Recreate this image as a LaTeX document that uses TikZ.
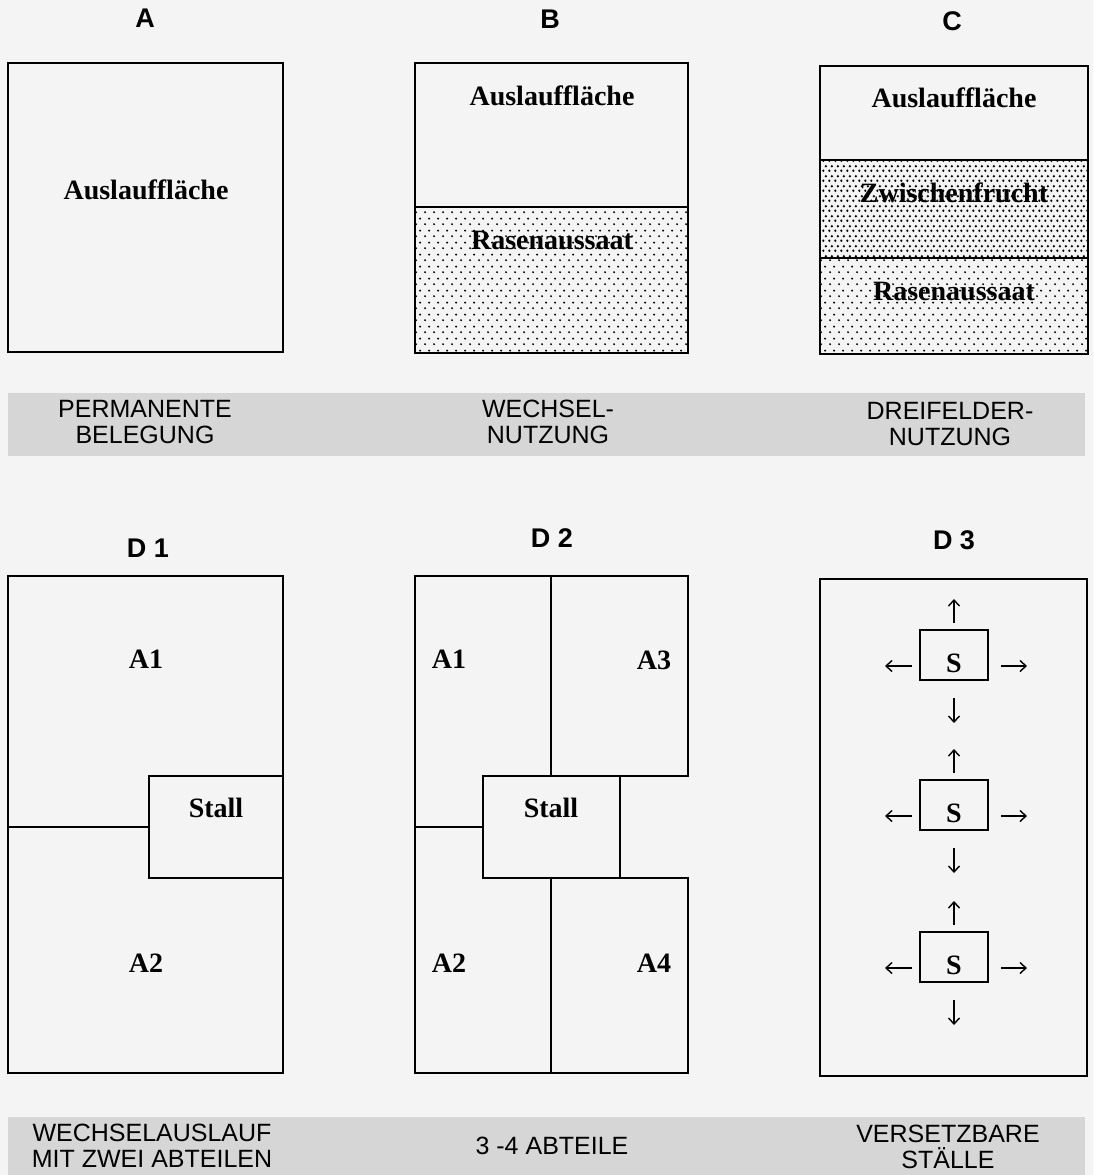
\documentclass[tikz,border=0pt]{standalone}
\usepackage{fontspec}
\setmainfont{Liberation Serif}
\setsansfont{Liberation Sans}
\usetikzlibrary{arrows.meta,patterns}
\definecolor{bg}{RGB}{244,244,244}
\definecolor{bandgray}{RGB}{214,214,214}
\pgfdeclarepatternformonly{sparsedots}{\pgfqpoint{0pt}{0pt}}{\pgfqpoint{9pt}{12pt}}{\pgfqpoint{9pt}{12pt}}{%
  \pgfpathcircle{\pgfqpoint{2.25pt}{3pt}}{1.15pt}%
  \pgfpathcircle{\pgfqpoint{6.75pt}{9pt}}{1.15pt}%
  \pgfusepath{fill}}
\pgfdeclarepatternformonly{densedots}{\pgfqpoint{0pt}{0pt}}{\pgfqpoint{6pt}{9.5pt}}{\pgfqpoint{6pt}{9.5pt}}{%
  \pgfpathcircle{\pgfqpoint{1.5pt}{2.375pt}}{1.4pt}%
  \pgfpathcircle{\pgfqpoint{4.5pt}{7.125pt}}{1.4pt}%
  \pgfusepath{fill}}
\begin{document}
\begin{tikzpicture}[x=1pt,y=-1pt,
  box/.style={draw=black,line width=1.6pt,anchor=north west,inner sep=0pt,outer sep=0pt,fill=bg},
  sparse/.style={box,pattern=sparsedots,pattern color=black},
  dense/.style={box,pattern=densedots,pattern color=black},
  lbl/.style={font=\fontsize{28}{28}\selectfont\bfseries},
  ttl/.style={font=\sffamily\bfseries\fontsize{27}{27}\selectfont},
  bandtxt/.style={font=\sffamily\fontsize{25}{26}\selectfont,align=center},
  wall/.style={draw=black,line width=1.6pt},
  arr/.style={line width=1.4pt,-{Straight Barb[length=6pt,width=11pt]}}
]
\useasboundingbox[fill=bg] (0,0) rectangle (1093,1175);

% ---------- titles ----------
\node[ttl] (tA) at (145,18) {A};
\node[ttl] (tB) at (550,19) {B};
\node[ttl] (tC) at (952,21) {C};
\node[ttl] (tD1) at (148,548) {D 1};
\node[ttl] (tD2) at (552,538) {D 2};
\node[ttl] (tD3) at (954,540) {D 3};

% ---------- A ----------
\node[box,minimum width=275pt,minimum height=289pt] (boxA) at (8,63) {};
\node[lbl] (lA) at (146,190) {Auslauffläche};

% ---------- B ----------
\node[box,minimum width=273pt,minimum height=144pt] (bTop) at (415,63) {};
\node[box,minimum width=273pt,minimum height=146pt] (bBot) at (415,207) {};
\draw[sparse] (415,207) rectangle (688,353);
\node[lbl] (lB1) at (552,96) {Auslauffläche};
\node[lbl] (lB2) at (552,241) {Rasenaussaat};

% ---------- C ----------
\node[box,minimum width=268pt,minimum height=94pt] (cTop) at (820,66) {};
\node[box,minimum width=268pt,minimum height=98pt] (cMid) at (820,160) {};
\draw[dense] (820,160) rectangle (1088,258);
\node[box,minimum width=268pt,minimum height=96pt] (cBot) at (820,258) {};
\draw[sparse] (820,258) rectangle (1088,354);
\node[lbl] (lC1) at (954,98) {Auslauffläche};
\node[lbl] (lC2) at (954,193) {Zwischenfrucht};
\node[lbl] (lC3) at (954,292) {Rasenaussaat};

% ---------- band 1 ----------
\fill[bandgray] (8,393) rectangle (1085,456);
\node[bandtxt] (b1a) at (145,422) {PERMANENTE\\BELEGUNG};
\node[bandtxt] (b1b) at (548,422) {WECHSEL-\\NUTZUNG};
\node[bandtxt] (b1c) at (950,424) {DREIFELDER-\\NUTZUNG};

% ---------- D1 ----------
\node[box,minimum width=275pt,minimum height=497pt] (d1) at (8,576) {};
\node[box,minimum width=134pt,minimum height=102pt] (stall1) at (149,776) {};
\draw[wall] (stall1.west) -- (stall1.west -| d1.west);
\node[lbl] (d1a1) at (146,659) {A1};
\node[lbl] (d1st) at (216,808) {Stall};
\node[lbl] (d1a2) at (146,963) {A2};

% ---------- D2 ----------
\coordinate (d2tl) at (415,576);
\coordinate (d2bl) at (415,1073);
\node[box,minimum width=137pt,minimum height=200pt] (a3) at (551,576) {};
\node[box,minimum width=137pt,minimum height=195pt] (a4) at (551,878) {};
\node[box,minimum width=137pt,minimum height=102pt] (stall2) at (483,776) {};
\draw[wall,line cap=rect] (a3.north west) -- (d2tl) -- (d2bl) -- (a4.south west);
\draw[wall] (stall2.west) -- (stall2.west -| d2tl);
\node[lbl] (d2a1) at (449,659) {A1};
\node[lbl] (d2a3) at (654,660) {A3};
\node[lbl] (d2st) at (551,808) {Stall};
\node[lbl] (d2a2) at (449,963) {A2};
\node[lbl] (d2a4) at (654,963) {A4};

% ---------- D3 ----------
\node[box,minimum width=267pt,minimum height=497pt] (d3) at (820,579) {};
\foreach \n/\y in {1/630,2/780,3/932}{
  \node[box,minimum width=68pt,minimum height=50pt] (s\n) at (920,\y) {};
  \node[lbl] (st\n) at ([yshift=-8pt]s\n.center) {S};
  \draw[arr] ([yshift=7pt]s\n.north) -- ([yshift=31pt]s\n.north);
  \draw[arr] ([yshift=-18pt]s\n.south) -- ([yshift=-43pt]s\n.south);
  \draw[arr] ([xshift=-8pt,yshift=-11pt]s\n.west) -- ([xshift=-35pt,yshift=-11pt]s\n.west);
  \draw[arr] ([xshift=13pt,yshift=-11pt]s\n.east) -- ([xshift=39pt,yshift=-11pt]s\n.east);
}

% ---------- band 2 ----------
\fill[bandgray] (8,1117) rectangle (1085,1175);
\node[bandtxt] (b2a) at (152,1146) {WECHSELAUSLAUF\\MIT ZWEI ABTEILEN};
\node[bandtxt] (b2b) at (552,1146) {3 -4 ABTEILE};
\node[bandtxt] (b2c) at (948,1147) {VERSETZBARE\\STÄLLE};
\end{tikzpicture}
\end{document}
